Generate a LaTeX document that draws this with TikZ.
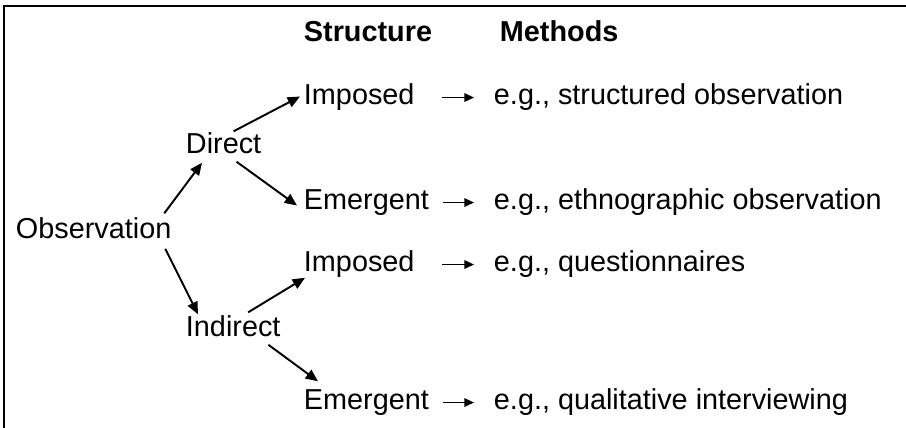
\documentclass[tikz,border=0pt]{standalone}
\usepackage{fontspec}
\setmainfont{Liberation Sans}
\usetikzlibrary{arrows.meta}

\begin{document}
\begin{tikzpicture}[x=0.02cm,y=-0.02cm,
    line width=1.1pt,
    >={Triangle[length=7pt,width=6pt]},
    lbl/.style = {
      anchor = base west,
      inner sep = 0pt,
      text height = 11.8pt,
      text depth = 3.3pt,
      font = \fontsize{16.4}{20}\selectfont
    },
    head/.style = {
      lbl,
      font = \fontsize{16.4}{20}\selectfont\bfseries
    },
    sarr/.style = {
      ->,
      >={Triangle[length=5.5pt,width=4.8pt]}
    }
  ]
  \useasboundingbox (0,0) rectangle (906,428);

  % frame
  \draw[line width=0.9pt] (4,428) -- (4,6) -- (906,6);

  \node[head] (hstr) at (303,42) {Structure};
  \node[head] (hmet) at (499,42) {Methods};

  \node[lbl] (obs) at (15,239) {Observation};
  \node[lbl] (dir) at (185,154) {Direct};
  \node[lbl] (ind) at (185,337) {Indirect};

  \node[lbl] (imp1) at (303,105) {Imposed};
  \node[lbl] (eme1) at (303,210) {Emergent};
  \node[lbl] (imp2) at (303,272) {Imposed};
  \node[lbl] (eme2) at (303,410) {Emergent};

  \node[lbl] (m1) at (493,105) {e.g., structured observation};
  \node[lbl] (m2) at (493,210) {e.g., ethnographic observation};
  \node[lbl] (m3) at (493,272) {e.g., questionnaires};
  \node[lbl] (m4) at (493,410) {e.g., qualitative interviewing};

  \draw[->] ([shift={(-8,-4)}]obs.north east) -- ([shift={(17,2)}]dir.south west);
  \draw[->] ([shift={(-7,3)}]obs.south east) -- ([shift={(13,-1)}]ind.north west);

  \draw[->] ([shift={(10,-1)}]dir.north) -- ([shift={(-3,-1)}]imp1.west);
  \draw[->] ([shift={(13,1)}]dir.south) -- ([shift={(-6,3)}]eme1.west);
  \draw[->] ([shift={(15,-3)}]ind.north) -- ([shift={(2,-1)}]imp2.south west);
  \draw[->] ([shift={(-13,1)}]ind.south east) -- ([shift={(15,-7)}]eme2.north west);

  \draw[sarr, shorten <=15.3pt, shorten >=10.8pt] (imp1.east) -- (m1.west);
  \draw[sarr, shorten <=7.4pt, shorten >=10.8pt] (eme1.east) -- (m2.west);
  \draw[sarr, shorten <=15.3pt, shorten >=10.8pt] (imp2.east) -- (m3.west);
  \draw[sarr, shorten <=7.4pt, shorten >=10.8pt] (eme2.east) -- (m4.west);
\end{tikzpicture}
\end{document}
